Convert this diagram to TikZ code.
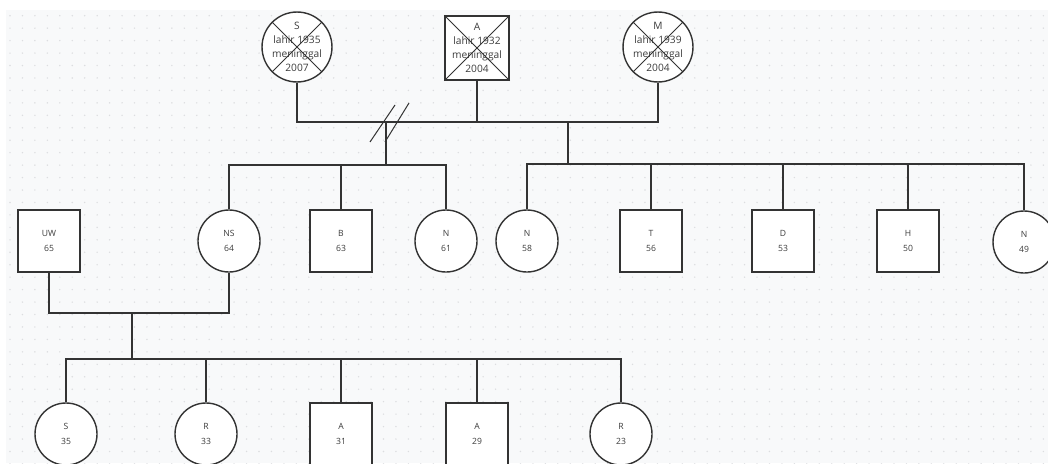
\documentclass[tikz,border=0pt]{standalone}
\usepackage{fontspec}
\setmainfont{Open Sans}
\definecolor{bgc}{HTML}{F8F9FA}
\definecolor{dotc}{HTML}{DCDDE0}
\definecolor{linec}{HTML}{333333}
\definecolor{txtc}{HTML}{3C3C3C}
\begin{document}
\begin{tikzpicture}[x=1pt,y=-1pt,
 person/.style={draw=linec, fill=white, line width=1.4pt, text=txtc, inner sep=0pt, align=center, font=\fontsize{8.6}{14.5}\selectfont},
 female/.style={person, circle, minimum size=62pt},
 male/.style={person, rectangle, minimum size=62pt},
 elder/.style={font=\fontsize{10.2}{14}\selectfont, minimum size=64pt},
 link/.style={draw=linec, line width=1.3pt},
 cross/.style={draw=linec, line width=1pt}]
\useasboundingbox (0,0) rectangle (1048,463);
\clip (0,0) rectangle (1048,463);
\fill[white] (0,0) rectangle (1048,463);
\fill[bgc] (6,10) rectangle (1048,463);
\foreach \i in {0,...,84}
  \foreach \j in {0,...,36}
    \fill[dotc] ({10+12.45*\i},{15.7+12.45*\j}) circle (0.8);

% generation 1
\node[female,elder] (gS) at (297,47) {S\\lahir 1935\\meninggal\\2007};
\node[male,elder] (gA) at (477,48) {A\\lahir 1932\\meninggal\\2004};
\node[female,elder] (gM) at (658,47) {M\\lahir 1939\\meninggal\\2004};
\draw[cross] (gS.north west) -- (gS.south east);
\draw[cross] (gS.north east) -- (gS.south west);
\draw[cross] (gA.north west) -- (gA.south east);
\draw[cross] (gA.north east) -- (gA.south west);
\draw[cross] (gM.north west) -- (gM.south east);
\draw[cross] (gM.north east) -- (gM.south west);

\coordinate (mar) at (477,122);
\draw[link] (gS.south) |- (mar) -| (gM.south);
\draw[link] (gA.south) -- (mar);
% divorce mark
\draw[cross] (370,142) -- (395,105);
\draw[cross] (385,142) -- (409,103);

% generation 2
\node[male] (UW) at (49,241) {UW\\65};
\node[female] (NS) at (229,241) {NS\\64};
\node[male] (B) at (341,241) {B\\63};
\node[female] (N61) at (446,241) {N\\61};
\node[female] (N58) at (527,241) {N\\58};
\node[male] (T) at (651,241) {T\\56};
\node[male] (D) at (783,241) {D\\53};
\node[male] (H) at (908,241) {H\\50};
\node[female] (N49) at (1024,242) {N\\49};

\coordinate (c1) at (386,122);
\coordinate (s1) at (386,165);
\draw[link] (c1) -- (s1);
\draw[link] (NS.north) |- (s1) -| (N61.north);
\draw[link] (B.north) -- (B.north |- s1);

\coordinate (c2) at (568,122);
\coordinate (s2) at (568,164);
\draw[link] (c2) -- (s2);
\draw[link] (N58.north) |- (s2) -| (N49.north);
\draw[link] (T.north) -- (T.north |- s2);
\draw[link] (D.north) -- (D.north |- s2);
\draw[link] (H.north) -- (H.north |- s2);

% generation 3
\node[female] (S35) at (66,434) {S\\35};
\node[female] (R33) at (206,434) {R\\33};
\node[male] (A31) at (341,434) {A\\31};
\node[male] (A29) at (477,434) {A\\29};
\node[female] (R23) at (621,434) {R\\23};

\coordinate (cp) at (132,313);
\draw[link] (UW.south) |- (cp) -| (NS.south);
\coordinate (s3) at (132,359);
\draw[link] (cp) -- (s3);
\draw[link] (S35.north) |- (s3) -| (R23.north);
\draw[link] (R33.north) -- (R33.north |- s3);
\draw[link] (A31.north) -- (A31.north |- s3);
\draw[link] (A29.north) -- (A29.north |- s3);
\end{tikzpicture}
\end{document}
